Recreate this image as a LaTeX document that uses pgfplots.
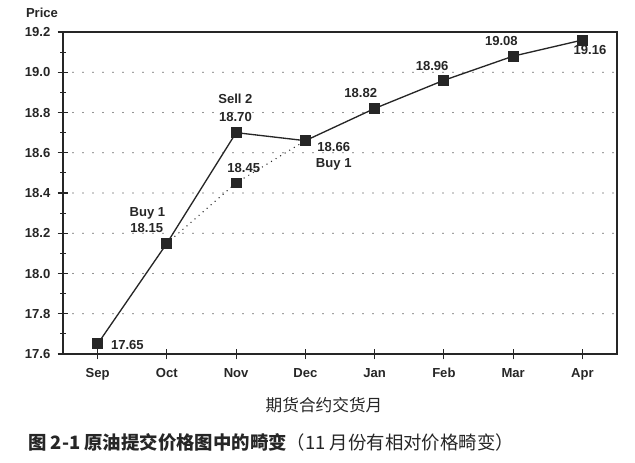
\documentclass[border=0pt]{standalone}
\usepackage{pgfplots}
\pgfplotsset{compat=1.18}
\usepackage{fontspec}
\setmainfont{Liberation Sans}
\newfontfamily\cjk{Noto Sans CJK SC}
\definecolor{ink}{HTML}{262626}
\newcommand\lbl{\bfseries\fontsize{9.8}{11}\selectfont}
\begin{document}
\begin{tikzpicture}[x=0.75pt,y=0.75pt]
\useasboundingbox (0,0) rectangle (635,462);
\begin{axis}[
  at={(47.25pt,81pt)}, anchor=south west,
  scale only axis, width=415.5pt, height=241.5pt,
  xmin=-0.5, xmax=7.5, ymin=17.6, ymax=19.2,
  xtick={0,1,2,3,4,5,6,7},
  xticklabels={Sep,Oct,Nov,Dec,Jan,Feb,Mar,Apr},
  ytick={17.6,17.8,18.0,18.2,18.4,18.6,18.8,19.0,19.2},
  yticklabels={17.6,17.8,18.0,18.2,18.4,18.6,18.8,19.0,19.2},
  minor y tick num=1,
  tick align=center,
  xtick pos=bottom, ytick pos=left,
  major tick length=8pt, minor tick length=4pt,
  ymajorgrids,
  grid style={ink, line width=1.1pt, dash pattern=on 0pt off 7.5pt, line cap=round},
  axis line style={ink, line width=0.9pt},
  tick style={ink, line width=0.8pt},
  tick label style={font=\lbl, text=ink},
  yticklabel style={xshift=-2pt},
  xticklabel style={yshift=-3pt},
  clip=false,
]
\addplot[ink, line width=1.1pt, dash pattern=on 0pt off 4pt, line cap=round]
  coordinates {(1,18.15) (2,18.45) (3,18.66)};
\addplot[ink, line width=1pt, mark=square*, mark size=3.6pt, mark options={solid, fill=ink}]
  coordinates {(0,17.65) (1,18.15) (2,18.70) (3,18.66) (4,18.82) (5,18.96) (6,19.08) (7,19.16)};
\addplot[only marks, ink, mark=square*, mark size=3.6pt, mark options={solid, fill=ink}]
  coordinates {(2,18.45)};
\begin{scope}[every node/.style={font=\lbl, text=ink, inner sep=0pt}]
\node at (axis cs:0.43,17.645) {17.65};
\node at (axis cs:0.72,18.30) {Buy 1};
\node at (axis cs:0.71,18.226) {18.15};
\node at (axis cs:1.99,18.867) {Sell 2};
\node at (axis cs:1.99,18.778) {18.70};
\node at (axis cs:2.11,18.524) {18.45};
\node at (axis cs:3.41,18.629) {18.66};
\node at (axis cs:3.41,18.544) {Buy 1};
\node at (axis cs:3.80,18.897) {18.82};
\node at (axis cs:4.83,19.031) {18.96};
\node at (axis cs:5.83,19.155) {19.08};
\node at (axis cs:7.11,19.11) {19.16};
\end{scope}
\end{axis}
\node[font=\lbl, text=ink] at (42,449) {Price};
\node[font=\cjk\fontsize{12.5}{14}\selectfont, text=ink] at (324,57) {期货合约交货月};
\node[anchor=west, font=\cjk\fontsize{13.8}{15}\selectfont, text=ink, inner sep=0pt] at (28,20) {{\bfseries 图 2-1 原油提交价格图中的畸变}（11 月份有相对价格畸变）};
\end{tikzpicture}
\end{document}
